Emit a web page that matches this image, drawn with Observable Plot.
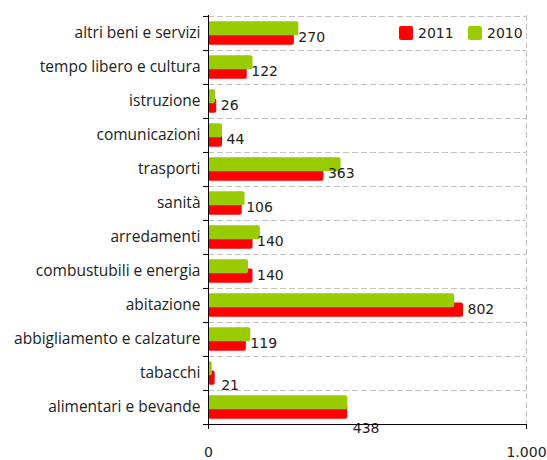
<!DOCTYPE html>
<html><head><meta charset="utf-8">
<script src="https://cdn.jsdelivr.net/npm/d3@7"></script>
<script src="https://cdn.jsdelivr.net/npm/@observablehq/plot@0.6"></script>
<style>
body{margin:0;background:#fff;}
#wrap{position:relative;width:547px;height:460px;}
.leg{position:absolute;font-family:"DejaVu Sans",sans-serif;font-size:14px;color:#222;display:flex;align-items:center;}
.sw{width:14px;height:14px;border-radius:2px;margin-right:5px;}
</style></head>
<body><div id="wrap"></div>
<script>
const categories = ["altri beni e servizi","tempo libero e cultura","istruzione","comunicazioni","trasporti","sanità","arredamenti","combustubili e energia","abitazione","abbigliamento e calzature","tabacchi","alimentari e bevande"];
const values2011 = [270,122,26,44,363,106,140,140,802,119,21,438];
const values2010 = [284,140,22,44,417,115,163,126,774,133,12,438];
const series = ["2011","2010"];
const colors = ["#ff0000","#99cc00"];
const xTicks = [0,1000];

const rows2011 = categories.map((c,i)=>({cat:c, v:values2011[i]}));
const rows2010 = categories.map((c,i)=>({cat:c, v:values2010[i]}));
const H = 460, mT = 15, mB = 36;
const step = (H - mT - mB) / categories.length;
const special = ["tabacchi","alimentari e bevande"];
const numFont = {fontFamily: "DejaVu Sans", fontSize: 14, fill: "#222", textAnchor: "start", text: d => String(d.v)};

const chart = Plot.plot({
  width: 547, height: H,
  marginLeft: 208, marginRight: 21, marginTop: mT, marginBottom: mB,
  x: {domain: [0,1000]},
  y: {domain: categories, padding: 0, label: null},
  marks: [
    Plot.ruleY(categories, {y: d=>d, dy: -step/2, stroke: "#c0c0c0", strokeDasharray: "6,3"}),
    Plot.ruleX([1000], {stroke: "#c0c0c0", strokeDasharray: "6,3"}),
    Plot.barX(rows2011, {y: "cat", x: "v", fill: colors[0], insetTop: step*0.425, insetBottom: step*0.155, rx: 2}),
    Plot.barX(rows2010, {y: "cat", x: "v", fill: colors[1], insetTop: step*0.155, insetBottom: step*0.435, rx: 2}),
    Plot.text(rows2011.filter(d => !special.includes(d.cat)), {y: "cat", x: "v", dx: 4, dy: 4, ...numFont}),
    Plot.text(rows2011.filter(d => d.cat === special[0]), {y: "cat", x: "v", dx: 6, dy: 12, ...numFont}),
    Plot.text(rows2011.filter(d => d.cat === special[1]), {y: "cat", x: "v", dx: 5, dy: 21, ...numFont}),
    Plot.ruleX([0], {stroke: "#000"}),
    Plot.ruleY([categories[categories.length-1]], {dy: step/2, stroke: "#000"}),
    Plot.axisY({tickSize: 5, tickFormat: () => "", dy: -step/2, stroke: "#000"}),
    Plot.axisY({ticks: [categories[categories.length-1]], tickSize: 5, tickFormat: () => "", dy: step/2, stroke: "#000"}),
    Plot.axisY({tickSize: 0, tickPadding: 8, label: null, fontFamily: "Open Sans", fontSize: 15.5, fill: "#222"}),
    Plot.axisX({ticks: xTicks, tickSize: 5, tickPadding: 18, label: null, stroke: "#000",
      tickFormat: d => d3.format(",")(d).replace(/,/g, "."), fontFamily: "DejaVu Sans", fontSize: 14, fill: "#222"})
  ]
});
document.getElementById("wrap").appendChild(chart);

const legPos = [399, 468];
series.forEach((s,i)=>{
  const el = document.createElement("div");
  el.className = "leg";
  el.style.left = legPos[i] + "px";
  el.style.top = "25px";
  el.innerHTML = `<div class="sw" style="background:${colors[i]}"></div>${s}`;
  document.getElementById("wrap").appendChild(el);
});
</script></body></html>
